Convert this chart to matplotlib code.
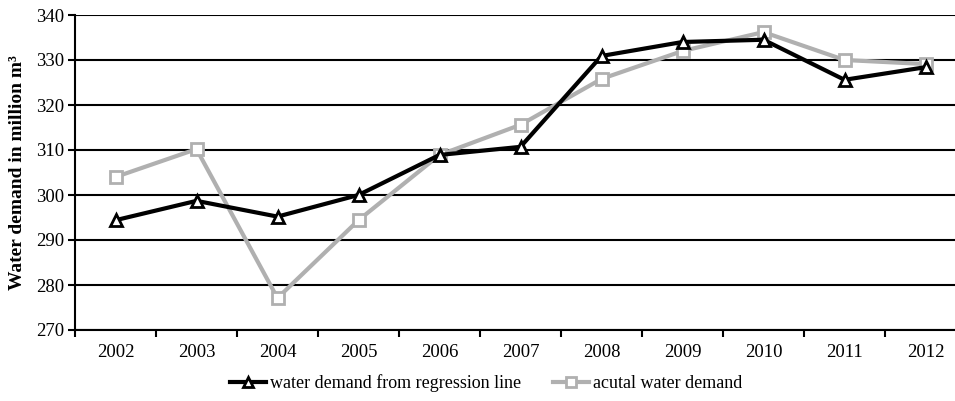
import matplotlib.pyplot as plt
import numpy as np

# dados
anos = ['2002', '2003', '2004', '2005', '2006', '2007', '2008', '2009', '2010', '2011', '2012']
regressao = [294.4, 298.7, 295.2, 300.0, 308.9, 310.7, 330.9, 334.0, 334.5, 325.6, 328.4]
real = [304.0, 310.2, 277.1, 294.4, 308.9, 315.6, 325.8, 332.0, 336.2, 330.0, 329.1]

plt.rcParams['font.family'] = ['Liberation Serif', 'DejaVu Serif']

fig = plt.figure(figsize=(9.55, 4.01), dpi=100)
ax = fig.add_axes([75 / 955, 1 - 330 / 401, 891 / 955, 315 / 401])

x = np.arange(len(anos))
ax.plot(x, regressao, color='black', lw=3, marker='^', ms=9, mfc='white',
        mec='black', mew=2, label='water demand from regression line', zorder=4)
ax.plot(x, real, color='#b0b0b0', lw=3, marker='s', ms=9, mfc='white',
        mec='#b0b0b0', mew=2, label='acutal water demand', zorder=3)

ax.set_xlim(-0.5, len(anos) - 0.5)
ax.set_ylim(270, 340)
ax.set_yticks(range(270, 341, 10))
ax.set_xticks(x)
ax.set_xticklabels(anos)
ax.set_xticks(np.arange(-0.5, len(anos), 1), minor=True)
ax.tick_params(axis='x', which='major', length=0, labelsize=13.5, pad=10)
ax.tick_params(axis='x', which='minor', length=5, width=1.5, direction='out')
ax.tick_params(axis='y', length=5, width=1.5, labelsize=13.5, pad=3)

ax.grid(axis='y', color='black', lw=1.5)
ax.set_axisbelow(True)
for s in ['top', 'right']:
    ax.spines[s].set_visible(False)
for s in ['left', 'bottom']:
    ax.spines[s].set_linewidth(1.5)

ax.set_ylabel('Water demand in million m³', fontsize=14, fontweight='bold', labelpad=7)

fig.legend(loc='center', bbox_to_anchor=(486 / 955, 1 - 383 / 401), ncol=2,
           frameon=False, fontsize=13, handlelength=2.0, columnspacing=1.8,
           handletextpad=0.2, markerscale=0.8)

fig.savefig('out.png', dpi=100)
